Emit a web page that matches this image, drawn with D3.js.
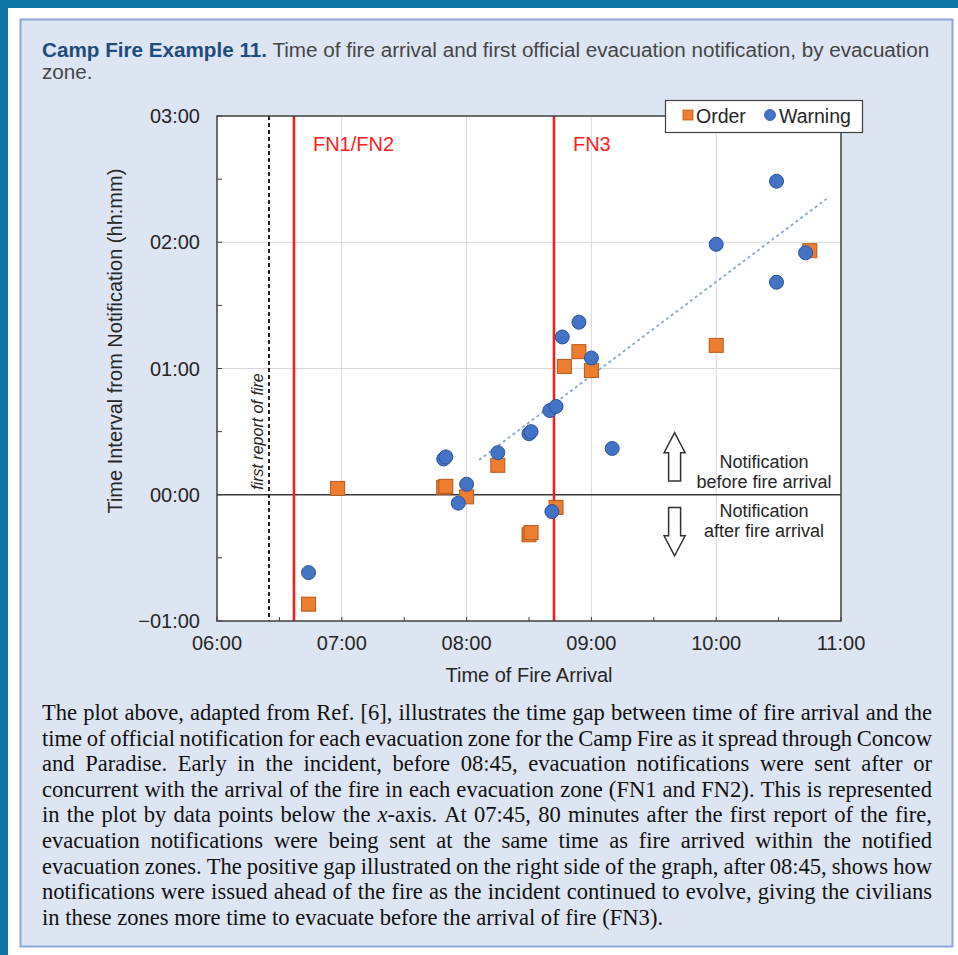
<!DOCTYPE html>
<html><head><meta charset="utf-8">
<script src="https://cdn.jsdelivr.net/npm/d3@7"></script>
<style>body{margin:0;background:#fff;} svg{display:block}</style>
</head><body>
<svg id="c" width="958" height="955"></svg>
<script>
// ---------------- DATA ----------------
const xTickLabels = ["06:00","07:00","08:00","09:00","10:00","11:00"];
const yTickValues = [180, 120, 60, 0, -60];
const yTickLabels = ["03:00","02:00","01:00","00:00","\u221201:00"];

// Order series: time of fire arrival, notification gap (minutes)
const orderTimes = ["06:44","06:58","07:49","07:50","08:00","08:15","08:30","08:31","08:43","08:47","08:54","09:00","10:00","10:45"];
const orderGaps  = [-52, 3, 3.5, 4, -1, 14, -19, -18, -6, 61, 68, 59, 71, 116];

// Warning series
const warningTimes = ["06:44","07:49","07:50","07:56","08:00","08:15","08:30","08:31","08:40","08:43","08:41","08:46","08:54","09:00","09:10","10:00","10:29","10:29","10:43"];
const warningGaps  = [-37, 17, 18, -4, 5, 20, 29, 30, 40, 42, -8, 75, 82, 65, 22, 119, 149, 101, 115];

// trend line endpoints (as drawn)
const trendTimes = ["08:06","10:53"];
const trendGaps  = [16.5, 140.6];

const fnLabels = ["FN1/FN2","FN3"];
const fnTimes  = ["06:37","08:42"];
const firstReportTime = "06:25";
const firstReportLabel = "first report of fire";

const seriesNames = ["Order","Warning"];

const titleBold = "Camp Fire Example 11.";
const titleRest = " Time of fire arrival and first official evacuation notification, by evacuation";
const titleLine2 = "zone.";

const annotationTime = "09:40";
const annotationLabelTime = "10:23";
const annotationAbove = ["Notification","before fire arrival"];
const annotationBelow = ["Notification","after fire arrival"];

const paragraph = [
 "The plot above, adapted from Ref. [6], illustrates the time gap between time of fire arrival and the",
 "time of official notification for each evacuation zone for the Camp Fire as it spread through Concow",
 "and Paradise. Early in the incident, before 08:45, evacuation notifications were sent after or",
 "concurrent with the arrival of the fire in each evacuation zone (FN1 and FN2). This is represented",
 "in the plot by data points below the *x*-axis. At 07:45, 80 minutes after the first report of the fire,",
 "evacuation notifications were being sent at the same time as fire arrived within the notified",
 "evacuation zones. The positive gap illustrated on the right side of the graph, after 08:45, shows how",
 "notifications were issued ahead of the fire as the incident continued to evolve, giving the civilians",
 "in these zones more time to evacuate before the arrival of fire (FN3)."
];

// ---------------- LAYOUT ----------------
const W = 958, H = 955;
const P = {left:217, right:841, top:116, bottom:621};
const SANS = "'Liberation Sans', Arial, sans-serif";
const SERIF = "'Liberation Serif', 'Times New Roman', serif";
const toMin = s => { const [h,m] = s.split(":").map(Number); return h*60+m; };

const svg = d3.select("#c");

// outer frame
svg.append("rect").attr("x",0).attr("y",0).attr("width",W).attr("height",8).attr("fill","#0e76a4");
svg.append("rect").attr("x",0).attr("y",0).attr("width",8).attr("height",H).attr("fill","#0e76a4");
svg.append("rect").attr("x",20.5).attr("y",19.5).attr("width",932).attr("height",927)
  .attr("fill","#dde5f3").attr("stroke","#8ea6da").attr("stroke-width",2);

// title
const title = svg.append("text").attr("x",42).attr("y",57)
  .attr("font-family",SANS).attr("font-size",19.5);
title.append("tspan").attr("font-weight","bold").attr("fill","#1f4c7c").text(titleBold);
title.append("tspan").attr("fill","#454545").text(titleRest);
const tw = title.node().getComputedTextLength();
const tsx = 888 / tw;
title.attr("transform",`translate(42,0) scale(${tsx},1) translate(-42,0)`);
svg.append("text").attr("x",42).attr("y",79).attr("font-family",SANS).attr("font-size",19.5)
  .attr("fill","#454545").attr("transform",`translate(42,0) scale(${tsx},1) translate(-42,0)`).text(titleLine2);

// scales
const x = d3.scaleLinear().domain([toMin("06:00"), toMin("11:00")]).range([P.left, P.right]);
const y = d3.scaleLinear().domain([-60, 180]).range([P.bottom, P.top]);

// plot area
svg.append("rect").attr("x",P.left).attr("y",P.top).attr("width",P.right-P.left).attr("height",P.bottom-P.top).attr("fill","#fff");

// gridlines
const g = svg.append("g");
const xHours = xTickLabels.map(toMin);
g.selectAll(".vg").data(xHours.slice(1,-1)).enter().append("line")
  .attr("x1",d=>x(d)).attr("x2",d=>x(d)).attr("y1",P.top).attr("y2",P.bottom)
  .attr("stroke","#d9d9d9").attr("stroke-width",1);
g.selectAll(".hg").data(yTickValues.filter(v=>v>-60 && v<180 && v!==0)).enter().append("line")
  .attr("x1",P.left).attr("x2",P.right).attr("y1",d=>y(d)).attr("y2",d=>y(d))
  .attr("stroke","#d9d9d9").attr("stroke-width",1);

// inner ticks every 30 min
const xMinor = d3.range(toMin("06:00"), toMin("11:00")+1, 30);
g.selectAll(".xt").data(xMinor).enter().append("line")
  .attr("x1",d=>x(d)).attr("x2",d=>x(d)).attr("y1",P.bottom).attr("y2",P.bottom-4)
  .attr("stroke","#404040").attr("stroke-width",1);
const yMinor = d3.range(-60, 181, 30);
g.selectAll(".yt").data(yMinor).enter().append("line")
  .attr("x1",P.left).attr("x2",P.left+5).attr("y1",d=>y(d)).attr("y2",d=>y(d))
  .attr("stroke","#404040").attr("stroke-width",1);

// zero line
g.append("line").attr("x1",P.left).attr("x2",P.right).attr("y1",y(0)).attr("y2",y(0))
  .attr("stroke","#3a3a3a").attr("stroke-width",1.5);

// first report dashed line
g.append("line").attr("x1",x(toMin(firstReportTime))).attr("x2",x(toMin(firstReportTime)))
  .attr("y1",P.top).attr("y2",P.bottom).attr("stroke","#222").attr("stroke-width",2).attr("stroke-dasharray","4,3");
g.append("text").attr("transform",`translate(${x(toMin(firstReportTime))-6},${y(30)}) rotate(-90)`)
  .attr("text-anchor","middle").attr("font-family",SANS).attr("font-style","italic").attr("font-size",16)
  .attr("fill","#262626").text(firstReportLabel);

// FN lines
fnTimes.forEach((t,i)=>{
  g.append("line").attr("x1",x(toMin(t))).attr("x2",x(toMin(t))).attr("y1",P.top).attr("y2",P.bottom)
    .attr("stroke","#ff1a1a").attr("stroke-width",2.5);
  g.append("text").attr("x",x(toMin(t))+19).attr("y",P.top+35).attr("font-family",SANS).attr("font-size",20)
    .attr("fill","#ff2020").text(fnLabels[i]);
});

// trend line
const trend = trendTimes.map((t,i)=>[toMin(t), trendGaps[i]]);
g.append("path").attr("d", d3.line().x(d=>x(d[0])).y(d=>y(d[1]))(trend))
  .attr("stroke","#8aa5d4").attr("stroke-width",1.8).attr("stroke-dasharray","3,3").attr("fill","none");

// plot frame
svg.append("rect").attr("x",P.left).attr("y",P.top).attr("width",P.right-P.left).attr("height",P.bottom-P.top)
  .attr("fill","none").attr("stroke","#404040").attr("stroke-width",1.5);

// points
const orders = orderTimes.map((t,i)=>({t:toMin(t), v:orderGaps[i]}));
const warnings = warningTimes.map((t,i)=>({t:toMin(t), v:warningGaps[i]}));
const S = 14;
svg.append("g").selectAll("rect").data(orders).enter().append("rect")
  .attr("x",d=>x(d.t)-S/2).attr("y",d=>y(d.v)-S/2).attr("width",S).attr("height",S)
  .attr("fill","#ed7d31").attr("stroke","#b35b1b").attr("stroke-width",1);
svg.append("g").selectAll("circle").data(warnings).enter().append("circle")
  .attr("cx",d=>x(d.t)).attr("cy",d=>y(d.v)).attr("r",7)
  .attr("fill","#4472c4").attr("stroke","#2f5597").attr("stroke-width",1);

// arrows (hollow)
function arrow(cx, yTip, yEnd){
  const dir = yEnd > yTip ? 1 : -1; // tip at yTip
  const headH = 20*dir, hw = 10.5, sw = 6;
  const pts = [[cx,yTip],[cx+hw,yTip+headH],[cx+sw,yTip+headH],[cx+sw,yEnd],[cx-sw,yEnd],[cx-sw,yTip+headH],[cx-hw,yTip+headH]];
  svg.append("polygon").attr("points",pts.map(p=>p.join(",")).join(" "))
    .attr("fill","#fff").attr("stroke","#333").attr("stroke-width",1.5);
}
const ax = x(toMin(annotationTime));
arrow(ax, y(29.5), y(6.5));
arrow(ax, y(-29), y(-6));
const lx = x(toMin(annotationLabelTime));
annotationAbove.forEach((s,i)=>svg.append("text").attr("x",lx).attr("y",y(0)-27+20*i)
  .attr("text-anchor","middle").attr("font-family",SANS).attr("font-size",18).attr("fill","#262626").text(s));
annotationBelow.forEach((s,i)=>svg.append("text").attr("x",lx).attr("y",y(0)+22+20*i)
  .attr("text-anchor","middle").attr("font-family",SANS).attr("font-size",18).attr("fill","#262626").text(s));

// axes labels
svg.append("g").selectAll("text").data(xTickLabels).enter().append("text")
  .attr("x",d=>x(toMin(d))).attr("y",P.bottom+29).attr("text-anchor","middle")
  .attr("font-family",SANS).attr("font-size",20).attr("fill","#262626").text(d=>d);
svg.append("g").selectAll("text").data(yTickValues).enter().append("text")
  .attr("x",P.left-17).attr("y",d=>y(d)+7).attr("text-anchor","end")
  .attr("font-family",SANS).attr("font-size",20).attr("fill","#262626").text((d,i)=>yTickLabels[i]);
svg.append("text").attr("x",(P.left+P.right)/2).attr("y",P.bottom+61).attr("text-anchor","middle")
  .attr("font-family",SANS).attr("font-size",20).attr("fill","#262626").text("Time of Fire Arrival");
svg.append("text").attr("transform",`translate(122,${y(73)}) rotate(-90)`).attr("text-anchor","middle")
  .attr("font-family",SANS).attr("font-size",20).attr("fill","#262626").text("Time Interval from Notification (hh:mm)");

// legend
const lg = svg.append("g");
lg.append("rect").attr("x",665.5).attr("y",100.5).attr("width",197).attr("height",32)
  .attr("fill","#fff").attr("stroke","#404040").attr("stroke-width",1.2);
lg.append("rect").attr("x",683).attr("y",110).attr("width",10).attr("height",10).attr("fill","#ed7d31").attr("stroke","#b35b1b").attr("stroke-width",0.8);
lg.append("text").attr("x",696).attr("y",123).attr("font-family",SANS).attr("font-size",19.5).attr("fill","#262626").text(seriesNames[0]);
lg.append("circle").attr("cx",770).attr("cy",115).attr("r",5.5).attr("fill","#4472c4").attr("stroke","#2f5597").attr("stroke-width",0.8);
lg.append("text").attr("x",779).attr("y",123).attr("font-family",SANS).attr("font-size",19.5).attr("fill","#262626").text(seriesNames[1]);

// paragraph (justified)
const PX = 42, PW = 890, PY0 = 720, PLH = 25.6, PFS = 22.5;
const para = svg.append("g");
function makeWord(parent, w){
  const t = parent.append("text").attr("font-family",SERIF).attr("font-size",PFS).attr("fill","#111");
  const parts = w.split("*");
  parts.forEach((p,k)=>{ if(p) t.append("tspan").attr("font-style", k%2 ? "italic":"normal").text(p); });
  return t;
}
// measure natural width of last line to get horizontal condensation
const probe = makeWord(para, paragraph[paragraph.length-1]);
const natLast = probe.node().getComputedTextLength();
probe.remove();
const psx = 621 / natLast;
const spaceProbe = makeWord(para, "a a"); const spA = makeWord(para,"aa");
const spaceW = spaceProbe.node().getComputedTextLength() - spA.node().getComputedTextLength();
spaceProbe.remove(); spA.remove();
paragraph.forEach((line, li)=>{
  const words = line.split(" ");
  const els = words.map(w=>makeWord(para,w));
  const widths = els.map(e=>e.node().getComputedTextLength()*psx);
  const total = d3.sum(widths);
  const last = li === paragraph.length-1;
  const gap = last ? spaceW*psx : (PW - total)/(words.length-1);
  let cx = PX;
  els.forEach((e,k)=>{
    e.attr("transform",`translate(${cx},${PY0+li*PLH}) scale(${psx},1)`);
    cx += widths[k] + gap;
  });
});
</script>
</body></html>
